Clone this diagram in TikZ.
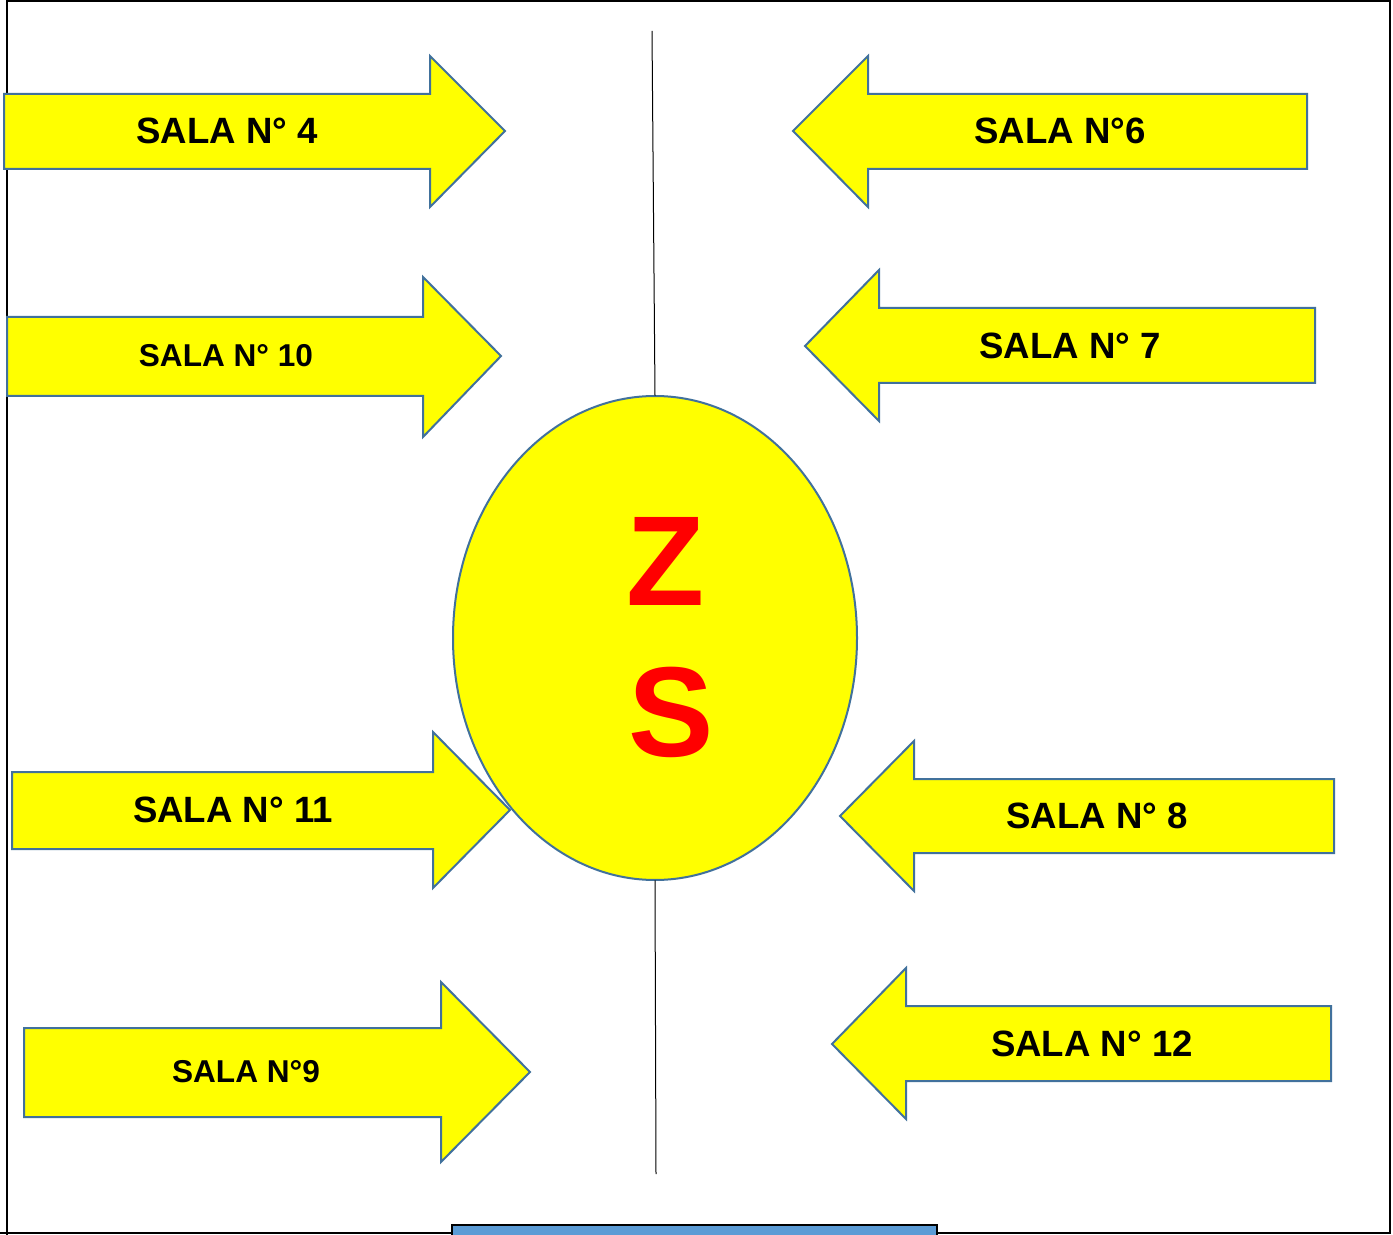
\documentclass[tikz,border=0pt]{standalone}
\usepackage{fontspec}
\setmainfont{Liberation Sans}
\definecolor{fillY}{RGB}{255,255,0}
\definecolor{edgeB}{RGB}{65,113,156}
\definecolor{zsred}{RGB}{255,0,0}
\definecolor{barblue}{RGB}{91,155,213}
\tikzset{
  arrowshape/.style={fill=fillY, draw=edgeB, line width=1pt, line join=miter},
  bigtxt/.style={inner sep=0pt, font=\bfseries\fontsize{18.3pt}{20pt}\selectfont},
  smalltxt/.style={inner sep=0pt, font=\bfseries\fontsize{15.8pt}{18pt}\selectfont},
  zstxt/.style={inner sep=0pt, text=zsred, font=\bfseries\fontsize{64pt}{70pt}\selectfont},
  axisline/.style={draw=black, line width=0.5pt}
}
\begin{document}
\begin{tikzpicture}[x=0.5pt,y=-0.5pt]
\useasboundingbox (0,0) rectangle (1393,1235);
\fill[white] (0,0) rectangle (1393,1235);
% outer frame
\draw[line width=1.2pt] (7,1235) -- (7,1) -- (1390,1) -- (1390,1233) -- (0,1233);
% bottom blue bar
\draw[fill=barblue, draw=black, line width=1.2pt] (452,1236) -- (452,1225) -- (937,1225) -- (937,1236);
% central ellipse
\draw[fill=fillY, draw=edgeB, line width=1pt] (655,638) ellipse [x radius=202, y radius=242];
\node[inner sep=0pt, minimum width=404*0.5pt, minimum height=484*0.5pt] (zs) at (655,638) {};
\coordinate (topend) at (652,31);
\coordinate (botend) at (656,1174);
\draw[axisline] (topend) -- (zs.north);
\draw[axisline] (zs.south) -- (botend);
\node[zstxt] (z) at (666,561) {Z};
\node[zstxt] (s) at (671,712) {S};
% right-pointing arrows
\draw[arrowshape] (4,94) -- (430,94) -- (430,56) -- (505,131) -- (430,207) -- (430,169) -- (4,169) -- cycle;
\node[bigtxt] (s4) at (227,131) {SALA N° 4};
\draw[arrowshape] (7,317) -- (423,317) -- (423,277) -- (501,356) -- (423,437) -- (423,396) -- (7,396) -- cycle;
\node[smalltxt] (s10) at (226,356) {SALA N° 10};
\draw[arrowshape] (12,772) -- (433,772) -- (433,732) -- (510,810) -- (433,888) -- (433,849) -- (12,849) -- cycle;
\node[bigtxt] (s11) at (233,810) {SALA N° 11};
\draw[arrowshape] (24,1028) -- (441,1028) -- (441,982) -- (530,1072) -- (441,1162) -- (441,1117) -- (24,1117) -- cycle;
\node[smalltxt] (s9) at (246,1072) {SALA N°9};
% left-pointing arrows
\draw[arrowshape] (1307,94) -- (868,94) -- (868,56) -- (793,131) -- (868,207) -- (868,169) -- (1307,169) -- cycle;
\node[bigtxt] (s6) at (1060,131) {SALA N°6};
\draw[arrowshape] (1315,308) -- (879,308) -- (879,270) -- (805,346) -- (879,421) -- (879,383) -- (1315,383) -- cycle;
\node[bigtxt] (s7) at (1070,346) {SALA N° 7};
\draw[arrowshape] (1334,779) -- (914,779) -- (914,741) -- (840,816) -- (914,891) -- (914,853) -- (1334,853) -- cycle;
\node[bigtxt] (s8) at (1097,816) {SALA N° 8};
\draw[arrowshape] (1331,1006) -- (906,1006) -- (906,968) -- (832,1044) -- (906,1119) -- (906,1081) -- (1331,1081) -- cycle;
\node[bigtxt] (s12) at (1092,1044) {SALA N° 12};
\end{tikzpicture}
\end{document}
